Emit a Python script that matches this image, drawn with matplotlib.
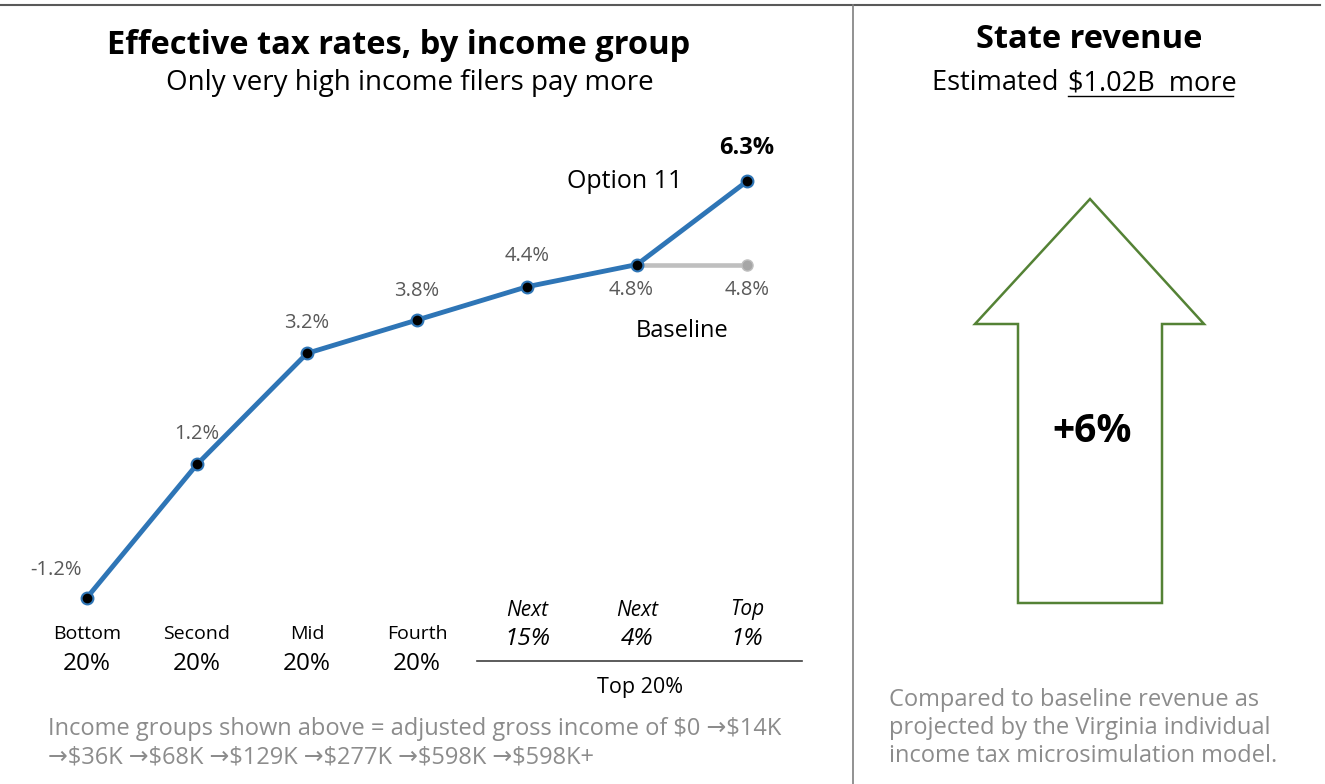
import matplotlib

matplotlib.use("Agg")
import matplotlib.pyplot as plt
from matplotlib.lines import Line2D
from matplotlib.patches import Polygon
from matplotlib.transforms import blended_transform_factory

plt.rcParams["font.family"] = ["Open Sans", "DejaVu Sans"]

# Data
group_names = ["Bottom", "Second", "Mid", "Fourth", "Next", "Next", "Top"]
group_shares = ["20%", "20%", "20%", "20%", "15%", "4%", "1%"]
option_rates = [-1.2, 1.2, 3.2, 3.8, 4.4, 4.8, 6.3]
baseline_idx = [5, 6]
baseline_rates = [4.8, 4.8]
revenue_change = "+6%"
revenue_amount = "$1.02B  more"

W, H = 1325, 784


def fx(px):
    return px / W


def fy(py):
    return 1 - py / H


fig = plt.figure(figsize=(W / 100, H / 100), dpi=100)

# Frame lines
fig.add_artist(Line2D([fx(0), fx(1320)], [fy(5), fy(5)], color="#595959", lw=1.5))
fig.add_artist(Line2D([fx(853), fx(853)], [fy(5), fy(784)], color="#7f7f7f", lw=1.2))

# Titles
fig.text(fx(399), fy(45), "Effective tax rates, by income group", ha="center", va="center",
         fontsize=23.5, fontweight="bold")
fig.text(fx(410), fy(83), "Only very high income filers pay more", ha="center", va="center",
         fontsize=20)
fig.text(fx(1089), fy(39), "State revenue", ha="center", va="center",
         fontsize=23.5, fontweight="bold")
fig.text(fx(1066), fy(83), "Estimated ", ha="right", va="center", fontsize=19.5)
fig.text(fx(1068), fy(83), revenue_amount, ha="left", va="center", fontsize=19.5,
         parse_math=False)
fig.add_artist(Line2D([fx(1068), fx(1233)], [fy(96), fy(96)], color="black", lw=1))

# Line chart
ax = fig.add_axes([fx(32), fy(642), fx(770), (642 - 114.65) / H])
ax.set_xlim(-0.5, 6.5)
ax.set_ylim(-2, 7.5)
ax.axis("off")

xs = list(range(len(option_rates)))
ax.plot(baseline_idx, baseline_rates, color="#bfbfbf", lw=3.3, zorder=2)
ax.plot(baseline_idx[-1], baseline_rates[-1], "o", color="#a6a6a6", ms=8,
        markeredgecolor="#bfbfbf", zorder=3)
ax.plot(xs, option_rates, color="#2e75b6", lw=3.5, zorder=4,
        marker="o", ms=8.5, markerfacecolor="black", markeredgecolor="#2e75b6",
        markeredgewidth=1.5)

label_offsets = [(-22, 20), (0, 22), (0, 22), (0, 21), (0, 22), (-4, -18), (0, 0)]
for i, v in enumerate(option_rates[:-1]):
    ax.annotate(f"{v:.1f}%", (i, v), xytext=label_offsets[i], textcoords="offset points",
                ha="center", va="center", fontsize=14.5, color="#595959")
ax.annotate(f"{option_rates[-1]:.1f}%", (6, option_rates[-1]), xytext=(0, 24),
            textcoords="offset points", ha="center", va="center", fontsize=17,
            fontweight="bold", color="black")
ax.annotate(f"{baseline_rates[-1]:.1f}%", (6, baseline_rates[-1]), xytext=(0, -18),
            textcoords="offset points", ha="center", va="center", fontsize=14.5,
            color="#595959")

ax.annotate("Option 11", (6, option_rates[-1]), xytext=(-88, 0), textcoords="offset points",
            ha="center", va="center", fontsize=18)
ax.annotate("Baseline", (6, baseline_rates[-1]), xytext=(-47, -48), textcoords="offset points",
            ha="center", va="center", fontsize=17)

# Category labels
tr = blended_transform_factory(ax.transData, fig.transFigure)
for i, (name, share) in enumerate(zip(group_names, group_shares)):
    if i < 4:
        fig.text(i, fy(634), name, transform=tr, ha="center", va="center", fontsize=14)
        fig.text(i, fy(664), share, transform=tr, ha="center", va="center", fontsize=17.5)
    else:
        fig.text(i, fy(610), name, transform=tr, ha="center", va="center", fontsize=15,
                 style="italic")
        fig.text(i, fy(639), share, transform=tr, ha="center", va="center", fontsize=17.5,
                 style="italic")
fig.add_artist(Line2D([3.55, 6.5], [fy(661), fy(661)], transform=tr, color="#404040", lw=1.2))
fig.text(fx(640), fy(688), "Top 20%", ha="center", va="center", fontsize=15.5)

fig.text(fx(48), fy(743),
         "Income groups shown above = adjusted gross income of $0 \u2192$14K\n"
         "\u2192$36K \u2192$68K \u2192$129K \u2192$277K \u2192$598K \u2192$598K+",
         ha="left", va="center", fontsize=17, color="#8c8c8c", linespacing=1.24,
         parse_math=False)

# Revenue arrow
arrow_pts = [(1090, 199), (1204, 324), (1162, 324), (1162, 603), (1018, 603),
             (1018, 324), (975, 324)]
fig.add_artist(Polygon([(fx(x), fy(y)) for x, y in arrow_pts], closed=True,
                       transform=fig.transFigure, facecolor="white",
                       edgecolor="#548235", lw=1.8))
fig.text(fx(1092), fy(432), revenue_change, ha="center", va="center", fontsize=28,
         fontweight="bold")

fig.text(fx(889), fy(728),
         "Compared to baseline revenue as\nprojected by the Virginia individual\n"
         "income tax microsimulation model.",
         ha="left", va="center", fontsize=17, color="#8c8c8c", linespacing=1.24)

fig.savefig("out.png", dpi=100)
